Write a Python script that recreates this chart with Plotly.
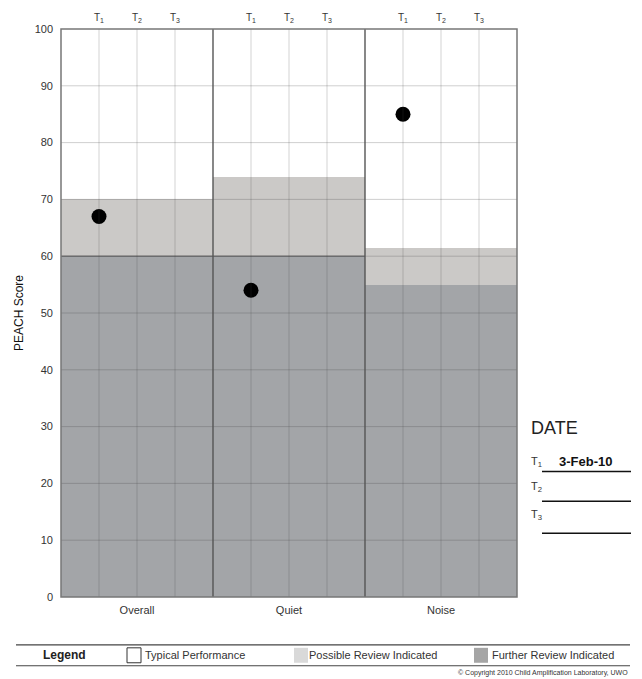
import plotly.graph_objects as go

# ---- data ----
categories = ["Overall", "Quiet", "Noise"]
time_labels = ["T<sub>1</sub>", "T<sub>2</sub>", "T<sub>3</sub>"]
further_review_top = [60, 60, 55]      # dark band upper limit
possible_review_top = [70, 74, 61.5]   # light band upper limit
t1_scores = [67, 54, 85]
y_ticks = [0, 10, 20, 30, 40, 50, 60, 70, 80, 90, 100]
date_labels = ["3-Feb-10", "", ""]

W, H = 642, 679
L, R, T, B = 61, 517, 27, 597  # plot area in pixels

def px(x):
    return (x - L) / (R - L)

def py(y):
    return (B - y) / (B - T)

NARROW = "Liberation Sans Narrow, Arial Narrow, Liberation Sans, sans-serif"
DARK = "#a3a5a8"
LIGHT = "#cbc9c7"

centers = [4 * i + 2 for i in range(len(categories))]
tpos = [4 * i + j + 1 for i in range(len(categories)) for j in range(3)]

fig = go.Figure()
fig.add_trace(go.Bar(x=centers, y=further_review_top, width=4, marker=dict(color=DARK, line=dict(width=0)),
                     showlegend=False, hoverinfo="skip"))
fig.add_trace(go.Bar(x=centers, y=[p - d for p, d in zip(possible_review_top, further_review_top)],
                     base=further_review_top, width=4, marker=dict(color=LIGHT, line=dict(width=0)),
                     showlegend=False, hoverinfo="skip"))
fig.add_trace(go.Scatter(x=[4 * i + 1 for i in range(len(categories))], y=t1_scores, mode="markers",
                         marker=dict(color="black", size=15), showlegend=False, hoverinfo="skip"))
# invisible trace to activate top axis
fig.add_trace(go.Scatter(x=tpos, y=[None] * len(tpos), xaxis="x2", showlegend=False, hoverinfo="skip"))

shapes = []
for yv in y_ticks[1:-1]:
    shapes.append(dict(type="line", xref="paper", yref="y", x0=0, x1=1, y0=yv, y1=yv,
                       line=dict(color="rgba(70,70,70,0.26)", width=1), layer="above"))
for xv in tpos:
    shapes.append(dict(type="line", xref="x", yref="paper", x0=xv, x1=xv, y0=0, y1=1,
                       line=dict(color="rgba(70,70,70,0.24)", width=1), layer="above"))
for c, d in zip(centers, further_review_top):
    if d == 60:
        shapes.append(dict(type="line", xref="x", yref="y", x0=c - 2, x1=c + 2, y0=d, y1=d,
                           line=dict(color="rgba(60,60,60,0.6)", width=1.2), layer="above"))
for xv in [4, 8]:
    shapes.append(dict(type="line", xref="x", yref="paper", x0=xv, x1=xv, y0=0, y1=1,
                       line=dict(color="#555555", width=1.4), layer="above"))
shapes.append(dict(type="rect", xref="paper", yref="paper", x0=0, x1=1, y0=0, y1=1,
                   line=dict(color="#777777", width=1.5), layer="above"))

annotations = []
annotations.append(dict(text="DATE", xref="paper", yref="paper", x=px(529), y=py(427), xanchor="left",
                        yanchor="middle", showarrow=False, font=dict(family=NARROW, size=18, color="#222")))
line_y = [471, 501, 533]
lab_y = [462, 487, 515]
for i in range(3):
    annotations.append(dict(text="T<sub>%d</sub>" % (i + 1), xref="paper", yref="paper", x=px(529), y=py(lab_y[i]),
                            xanchor="left", yanchor="middle", showarrow=False,
                            font=dict(family=NARROW, size=11, color="#333")))
    shapes.append(dict(type="line", xref="paper", yref="paper", x0=px(542), x1=px(631), y0=py(line_y[i]),
                       y1=py(line_y[i]), line=dict(color="#111", width=1.5)))
    if date_labels[i]:
        annotations.append(dict(text="<b>%s</b>" % date_labels[i], xref="paper", yref="paper", x=px(585),
                                y=py(line_y[i]) + 0.001, xanchor="center", yanchor="bottom", showarrow=False,
                                font=dict(family="Liberation Sans, Arial, sans-serif", size=13, color="#111")))

shapes.append(dict(type="line", xref="paper", yref="paper", x0=px(16), x1=px(630), y0=py(645), y1=py(645),
                   line=dict(color="#444", width=1.2)))
shapes.append(dict(type="line", xref="paper", yref="paper", x0=px(16), x1=px(630), y0=py(666), y1=py(666),
                   line=dict(color="#444", width=1.2)))
annotations.append(dict(text="<b>Legend</b>", xref="paper", yref="paper", x=px(41), y=py(655.5), xanchor="left",
                        yanchor="middle", showarrow=False,
                        font=dict(family="Liberation Sans, Arial, sans-serif", size=12, color="#222")))
legend_items = [("Typical Performance", "white", "#333", 127, 143),
                ("Possible Review Indicated", "#d9d9d9", None, 294, 307),
                ("Further Review Indicated", "#a5a5a5", None, 474, 490)]
for text, fill, border, bx, tx in legend_items:
    shapes.append(dict(type="rect", xref="paper", yref="paper", x0=px(bx), x1=px(bx + 14), y0=py(663), y1=py(648),
                       fillcolor=fill, line=dict(color=border if border else fill, width=1 if border else 0)))
    annotations.append(dict(text=text, xref="paper", yref="paper", x=px(tx), y=py(655.5), xanchor="left",
                            yanchor="middle", showarrow=False, font=dict(family=NARROW, size=11, color="#333")))
annotations.append(dict(text="\u00a9 Copyright 2010 Child Amplification Laboratory, UWO", xref="paper", yref="paper",
                        x=px(630), y=py(673.5), xanchor="right", yanchor="middle", showarrow=False,
                        font=dict(family=NARROW, size=7, color="#333")))

fig.update_layout(
    width=W, height=H,
    margin=dict(l=L, r=W - R, t=T, b=H - B, pad=0),
    paper_bgcolor="white", plot_bgcolor="white",
    barmode="overlay", bargap=0,
    shapes=shapes, annotations=annotations,
    xaxis=dict(range=[0, 12], tickmode="array", tickvals=centers, ticktext=categories, showgrid=False,
               zeroline=False, showline=False, ticks="", ticklabelstandoff=5,
               tickfont=dict(family=NARROW, size=11, color="#333"), fixedrange=True),
    xaxis2=dict(range=[0, 12], overlaying="x", side="top", tickmode="array", tickvals=tpos,
                ticktext=time_labels * 3, showgrid=False, zeroline=False, showline=False, ticks="",
                ticklabelstandoff=5,
                tickfont=dict(family=NARROW, size=10, color="#333"), fixedrange=True),
    yaxis=dict(range=[0, 100], tickmode="array", tickvals=y_ticks, showgrid=False, zeroline=False,
               showline=False, ticks="", ticklabelstandoff=7,
               tickfont=dict(family=NARROW, size=11, color="#333"),
               title=dict(text="PEACH Score", font=dict(family=NARROW, size=12, color="#111"), standoff=8),
               fixedrange=True),
    font=dict(family=NARROW),
)

fig.write_html("out.html", config={"displayModeBar": False},
               post_script="document.body.style.margin='0';document.body.style.overflow='hidden';")
